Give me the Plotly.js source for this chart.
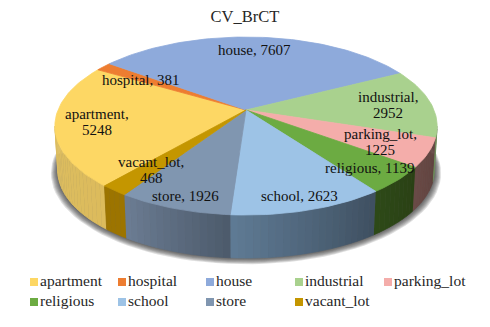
<!DOCTYPE html>
<html><head><meta charset="utf-8">
<script src="https://cdn.plot.ly/plotly-3.0.1.min.js"></script>
<style>html,body{margin:0;padding:0;background:#fff}#c{width:490px;height:327px}</style>
</head><body><div id="c"></div>
<script>
const categories = ["apartment","hospital","house","industrial","parking_lot","religious","school","store","vacant_lot"];
const values = [5248,381,7607,2952,1225,1139,2623,1926,468];
const topColors = ["#fdd764","#ed7d31","#8eaadb","#a9d18e","#f4adaa","#6cab42","#9dc3e6","#8096b0","#c49600"];
const sideLeft = ["#dcbd60","#a85a20","#5d6f90","#6f8a5c","#6a4a46","#2d4a18","#5f7b95","#6c7d94","#9c7400"];
const sideRight = ["#dcbb5c","#a85a20","#5d6f90","#6f8a5c","#5f423e","#2a4014","#3e4f60","#4c5a6b","#9c7400"];
const labelText = ["apartment,<br>5248","hospital, 381","house, 7607","industrial,<br>2952","parking_lot,<br>1225","religious, 1139","school, 2623","store, 1926","vacant_lot,<br>468"];
const labelX = [97,141,254,388,380,369,299,185,151];
const labelY = [122,80,50,105,142,168,196,196,170];
const legendX = [34,122,210,299,388,34,122,210,299];
const legendY = [282,282,282,282,282,302,302,302,302];
const titleText = "CV_BrCT";
const startAngle = 220.5;
const SERIF = '"Liberation Serif","Times New Roman",Times,serif';
const LINE_GAP = 16.5;

const CX=246, CY=110, A=86.1, B=188, K=0.18, DEPTH=44.6, S=0.985;
const rad=d=>d*Math.PI/180;
function proj(deg,r,bottom){
  const u=r*Math.sin(rad(deg)), v=-r*Math.cos(rad(deg)), d=1-K*v, s=bottom?S:1;
  return [CX+s*B*u/d, CY+(bottom?DEPTH:0)+s*A*v/d];
}
function mix(a,b,t){
  const p=c=>[1,3,5].map(i=>parseInt(c.substr(i,2),16));
  const x=p(a),y=p(b);
  return "rgb("+x.map((q,i)=>Math.round(q+(y[i]-q)*t)).join(",")+")";
}
const total=values.reduce((a,b)=>a+b,0);
let ang=startAngle; const spans=values.map(v=>{const s=[ang,ang+v/total*360];ang=s[1];return s;});
const traces=[];
function poly(pts,color,name,extra){
  traces.push(Object.assign({type:"scatter",mode:"lines",x:pts.map(p=>p[0]),y:pts.map(p=>p[1]),fill:"toself",fillcolor:color,
    line:{width:0.8,color:color},hoverinfo:"skip",showlegend:false,name:name},extra||{}));
}
const T0=100.4,T1=259.6;
// soft shadow beneath the disc
for(let i=7;i>=1;i--){
  const pts=[];
  for(let a=T0-12;a<=T1+12;a+=3){const p=proj(a,1+i*0.005,true);pts.push([p[0],p[1]+i*0.25]);}
  poly(pts,"rgba(40,40,40,0.15)","shadow",{line:{width:0}});
}
// side wall strips
spans.forEach((s,i)=>{
  for(let k=0;k<2;k++){
    const lo=k?s[0]-360:s[0], hi=k?s[1]-360:s[1];
    const a0=Math.max(lo,T0),a1=Math.min(hi,T1);
    if(a1<=a0) continue;
    const n=Math.max(1,Math.ceil((a1-a0)/2));
    for(let j=0;j<n;j++){
      const x0=a0+(a1-a0)*j/n,x1=a0+(a1-a0)*(j+1)/n;
      const pts=[proj(x0,1,false),proj(x1,1,false),proj(x1,1,true),proj(x0,1,true)];
      poly(pts,mix(sideRight[i],sideLeft[i],(j+0.5)/n),categories[i]);
    }
  }
});
// top faces
spans.forEach((s,i)=>{
  const pts=[[CX,CY]];const n=Math.max(4,Math.ceil((s[1]-s[0])/1.5));
  for(let j=0;j<=n;j++)pts.push(proj(s[0]+(s[1]-s[0])*j/n,1,false));
  pts.push([CX,CY]);
  poly(pts,topColors[i],categories[i]);
});
// legend swatches and labels
categories.forEach((c,i)=>{
  traces.push({type:"scatter",mode:"markers+text",x:[legendX[i]],y:[legendY[i]],name:c,text:[c],textposition:"middle right",
    marker:{symbol:"square",size:8,color:topColors[i]},textfont:{family:SERIF,size:15.5,color:"#262626"},showlegend:false,hoverinfo:"skip",cliponaxis:false});
});
const annotations=[];
categories.forEach((c,i)=>{
  const lines=labelText[i].split("<br>");
  lines.forEach((t,j)=>annotations.push({xref:"x",yref:"y",x:labelX[i],y:labelY[i]+(j-(lines.length-1)/2)*LINE_GAP,text:t,showarrow:false,
    font:{family:SERIF,size:15,color:"#111"},align:"center",xanchor:"center",yanchor:"middle"}));
});
Plotly.newPlot("c",traces,{
  width:490,height:327,margin:{l:0,r:0,t:0,b:0},paper_bgcolor:"#fff",plot_bgcolor:"#fff",showlegend:false,
  font:{family:SERIF},
  title:{text:titleText,x:245/490,xanchor:"center",y:1-16/327,yanchor:"middle",font:{family:SERIF,size:16.5,color:"#262626"}},
  xaxis:{range:[0,490],visible:false,fixedrange:true},
  yaxis:{range:[327,0],visible:false,fixedrange:true},
  annotations:annotations
},{displayModeBar:false,staticPlot:true});
</script></body></html>
